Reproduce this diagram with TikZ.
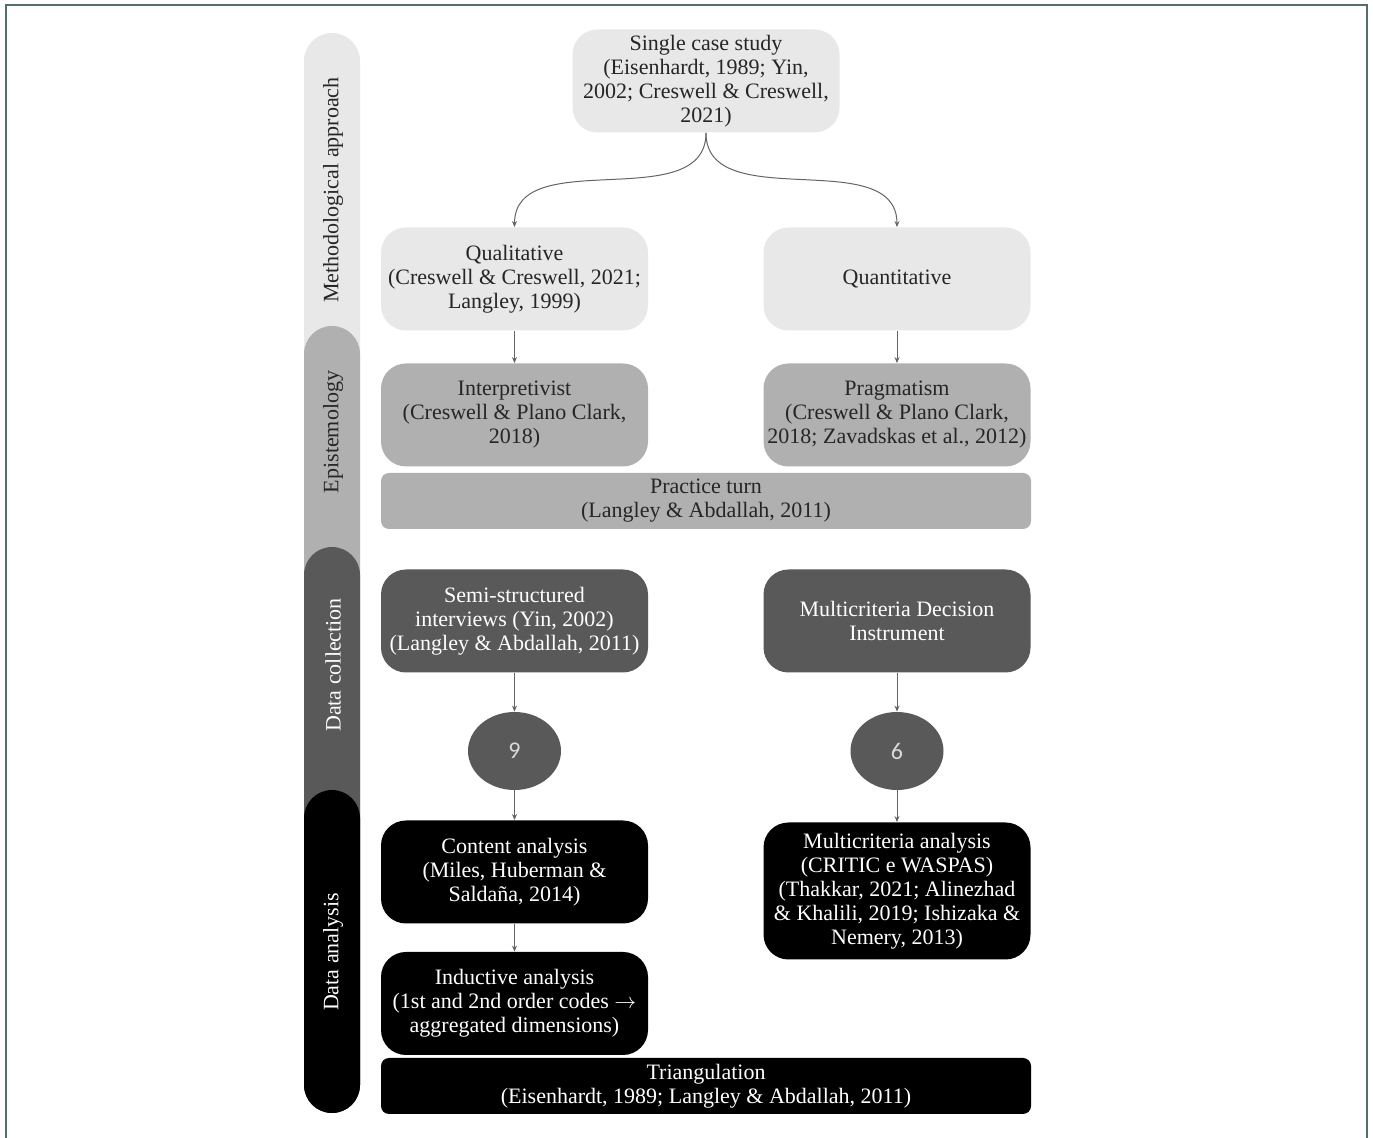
\documentclass[tikz,border=0pt]{standalone}
\usepackage{fontspec}
\setmainfont{Liberation Serif}
\newfontfamily\numfont{Carlito}
\usepackage{tikz}
\usetikzlibrary{arrows.meta, shapes.geometric}
\definecolor{frame}{RGB}{82,112,100}
\definecolor{light}{RGB}{232,232,232}
\definecolor{mid}{RGB}{176,176,176}
\definecolor{dark}{RGB}{89,89,89}
\definecolor{wire}{RGB}{100,100,100}
\definecolor{ink}{RGB}{38,38,38}

\tikzset{
    box/.style={rounded corners=12.5pt, minimum width=133.5pt, minimum height=51.5pt,
        inner sep=0pt, align=center, font=\fontsize{11}{12}\selectfont},
    lightbox/.style={box, fill=light, text=ink},
    midbox/.style={box, fill=mid, text=ink},
    darkbox/.style={box, fill=dark, text=white},
    blackbox/.style={box, fill=black, text=white},
    widebar/.style={box, rounded corners=4pt, minimum width=325pt, minimum height=28pt},
    count/.style={ellipse, fill=dark, text=white!85!black, minimum width=46.5pt,
        minimum height=39pt, inner sep=0pt, font=\numfont\fontsize{12}{14}\selectfont},
    link/.style={-{Stealth[length=3pt, width=2.5pt]}, draw=wire, line width=0.5pt},
    barlabel/.style={rotate=90, font=\fontsize{11}{12}\selectfont}
}

\begin{document}
\begin{tikzpicture}[x=0.5pt, y=-0.5pt]

    \useasboundingbox (0,0) rectangle (1373,1138);
    \draw[frame, line width=1pt] (6,1138) -- (6,5) -- (1367,5) -- (1367,1138);

    % stages on the left
    \fill[light] (304,33) [rounded corners=14pt] rectangle (360,1113);
    \fill[mid] (304,326) [rounded corners=14pt] rectangle (360,1113);
    \fill[dark] (304,547) [rounded corners=14pt] rectangle (360,1113);
    \fill[black] (304,790) [rounded corners=14pt] rectangle (360,1113);

    \node[barlabel, text=ink] (method) at (333,190) {Methodological approach};
    \node[barlabel, text=ink] (episte) at (333,432) {Epistemology};
    \node[barlabel, text=white] (collect) at (333,665) {Data collection};
    \node[barlabel, text=white] (analysis) at (333,952) {Data analysis};

    % boxes
    \node[lightbox] (single) at (706,81) {Single case study\\(Eisenhardt, 1989; Yin,\\2002; Creswell \& Creswell,\\2021)};
    \node[lightbox] (qual) at (514.5,279) {Qualitative\\(Creswell \& Creswell, 2021;\\Langley, 1999)};
    \node[lightbox] (quan) at (897,279) {Quantitative};
    \node[midbox] (interp) at (514.5,415) {Interpretivist\\(Creswell \& Plano Clark,\\2018)};
    \node[midbox] (prag) at (897,415) {Pragmatism\\(Creswell \& Plano Clark,\\2018; Zavadskas et al., 2012)};
    \node[midbox, widebar] (practice) at (706,501) {Practice turn\\(Langley \& Abdallah, 2011)};

    \node[darkbox] (semi) at (514.5,621) {Semi-structured\\interviews (Yin, 2002)\\(Langley \& Abdallah, 2011)};
    \node[darkbox] (mdi) at (897,621) {Multicriteria Decision\\Instrument};
    \node[count] (nine) at (514.5,751) {9};
    \node[count] (six) at (897,751) {6};

    \node[blackbox] (content) at (514.5,872) {Content analysis\\(Miles, Huberman \&\\Saldaña, 2014)};
    \node[blackbox, minimum height=68.5pt] (mca) at (897,891) {Multicriteria analysis\\(CRITIC e WASPAS)\\(Thakkar, 2021; Alinezhad\\\& Khalili, 2019; Ishizaka \&\\Nemery, 2013)};
    \node[blackbox] (induct) at (514.5,1003.5) {Inductive analysis\\(1st and 2nd order codes $\rightarrow$\\aggregated dimensions)};
    \node[blackbox, widebar] (triang) at (706,1086) {Triangulation\\(Eisenhardt, 1989; Langley \& Abdallah, 2011)};

    % arrows
    \draw[link] (single.south) to[out=-90, in=90] (qual.north);
    \draw[link] (single.south) to[out=-90, in=90] (quan.north);
    \draw[link] (qual) -- (interp);
    \draw[link] (quan) -- (prag);
    \draw[link] (semi) -- (nine);
    \draw[link] (nine) -- (content);
    \draw[link] (content) -- (induct);
    \draw[link] (mdi) -- (six);
    \draw[link] (six) -- (mca);

\end{tikzpicture}
\end{document}
